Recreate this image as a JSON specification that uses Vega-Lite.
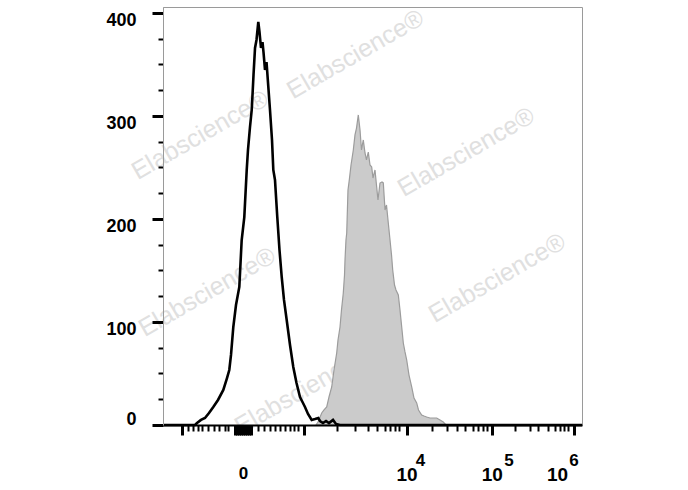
{
  "$schema": "https://vega.github.io/schema/vega-lite/v6.json",
  "width": 419,
  "height": 418,
  "autosize": {"type": "none"},
  "padding": {"left": 163, "top": 7, "right": 106, "bottom": 65},
  "background": "white",
  "config": {"view": {"stroke": "#9a9a9a", "strokeWidth": 1}, "font": "Liberation Sans"},
  "datasets": {
    "control": [
      {"ch":0,"v":0},{"ch":78.2,"v":0},{"ch":83.1,"v":1.9},{"ch":92.9,"v":4.9},{"ch":102.6,"v":6.8},{"ch":112.4,"v":11.7},{"ch":122.9,"v":17.5},{"ch":134.4,"v":24.3},{"ch":147.4,"v":34},{"ch":156.4,"v":45.6},{"ch":162,"v":53.4},{"ch":166.2,"v":68},{"ch":171.8,"v":95.1},{"ch":178.4,"v":116.5},{"ch":186.5,"v":134},{"ch":192.3,"v":179.6},{"ch":198.7,"v":201.9},{"ch":204.6,"v":247.6},{"ch":207.7,"v":267},{"ch":212.6,"v":289.3},{"ch":216.8,"v":305.8},{"ch":217.5,"v":310.7},{"ch":221.2,"v":339.8},{"ch":224.9,"v":366},{"ch":228.5,"v":373.8},{"ch":232.9,"v":391.3},{"ch":235.8,"v":381.6},{"ch":239.5,"v":366},{"ch":243.2,"v":371.8},{"ch":245.6,"v":362.1},{"ch":249.3,"v":344.7},{"ch":253,"v":352.4},{"ch":257.4,"v":328.2},{"ch":261.5,"v":305.8},{"ch":266.4,"v":276.7},{"ch":269.6,"v":247.6},{"ch":273.7,"v":237.9},{"ch":279.3,"v":201.9},{"ch":284.7,"v":169.9},{"ch":290.1,"v":143.7},{"ch":295.7,"v":121.4},{"ch":302.3,"v":101.9},{"ch":310.4,"v":77.7},{"ch":318.4,"v":56.3},{"ch":326.3,"v":40.8},{"ch":334.8,"v":27.2},{"ch":340.9,"v":22.3},{"ch":347,"v":17.5},{"ch":354.4,"v":10.7},{"ch":363.4,"v":4.9},{"ch":371.5,"v":5.8},{"ch":379.5,"v":6.8},{"ch":383.7,"v":3.9},{"ch":391,"v":1.9},{"ch":398.4,"v":3.9},{"ch":405.7,"v":1.9},{"ch":415.5,"v":4.9},{"ch":422.8,"v":1},{"ch":432.6,"v":0},{"ch":1024,"v":0}
    ],
    "stained": [
      {"ch":373.9,"v":0},{"ch":378.8,"v":2.9},{"ch":387.9,"v":11.7},{"ch":393.5,"v":14.6},{"ch":400.1,"v":17.5},{"ch":405.7,"v":27.2},{"ch":412.3,"v":36.9},{"ch":417.9,"v":53.4},{"ch":424.5,"v":69.9},{"ch":427.7,"v":82.5},{"ch":432.6,"v":95.1},{"ch":436.2,"v":111.7},{"ch":440.6,"v":128.2},{"ch":443.6,"v":145.6},{"ch":444.8,"v":160.2},{"ch":447.2,"v":179.6},{"ch":449,"v":186.4},{"ch":452.1,"v":228.2},{"ch":455.3,"v":237.9},{"ch":459.5,"v":252.4},{"ch":465.1,"v":267},{"ch":469.2,"v":281.6},{"ch":472.9,"v":288.3},{"ch":477.3,"v":301},{"ch":481.5,"v":286.4},{"ch":485.1,"v":267},{"ch":489.5,"v":276.7},{"ch":493.7,"v":264.1},{"ch":497.3,"v":257.3},{"ch":501.7,"v":265},{"ch":505.9,"v":252.4},{"ch":510,"v":250.5},{"ch":513.2,"v":239.8},{"ch":518.1,"v":247.6},{"ch":522.2,"v":231.1},{"ch":525.4,"v":218.4},{"ch":530.3,"v":234.9},{"ch":535.2,"v":235.9},{"ch":538.4,"v":235},{"ch":542.6,"v":208.7},{"ch":546.2,"v":213.6},{"ch":550.6,"v":196.1},{"ch":554.8,"v":179.6},{"ch":558.5,"v":165},{"ch":561.4,"v":150.5},{"ch":565.8,"v":135.9},{"ch":569.4,"v":131.1},{"ch":575.1,"v":126.2},{"ch":579.2,"v":111.7},{"ch":582.9,"v":97.1},{"ch":587.3,"v":79.6},{"ch":591.4,"v":70.9},{"ch":595.6,"v":63.1},{"ch":601.2,"v":48.5},{"ch":607.8,"v":36.9},{"ch":613.4,"v":26.2},{"ch":620,"v":21.4},{"ch":624.4,"v":14.6},{"ch":632.2,"v":9.7},{"ch":637.9,"v":8.7},{"ch":644.4,"v":7.8},{"ch":652.5,"v":6.8},{"ch":662.3,"v":6.8},{"ch":668.9,"v":6.8},{"ch":677,"v":4.9},{"ch":685,"v":2.9},{"ch":691.6,"v":0}
    ],
    "marks": [
      {"ch":470,"v":360,"t":"Elabscience®"},
      {"ch":90.4,"v":281.6,"t":"Elabscience®"},
      {"ch":740.5,"v":265,"t":"Elabscience®"},
      {"ch":107.5,"v":129.1,"t":"Elabscience®"},
      {"ch":816.3,"v":142.7,"t":"Elabscience®"},
      {"ch":342.2,"v":34,"t":"Elabscience®"}
    ],
    "sups": [
      {"ch":629.3,"v":-35,"t":"4"},
      {"ch":845.6,"v":-35,"t":"5"},
      {"ch":1004.4,"v":-35,"t":"6"}
    ]
  },
  "encoding": {
    "x": {
      "field": "ch", "type": "quantitative",
      "scale": {"domain": [0, 1024], "nice": false, "zero": false},
      "axis": {
        "title": null, "grid": false, "zindex": 1,
        "values": [47.2,61.8,74.1,84.8,94.6,110.7,125.4,137.6,151.5,159.6,176,180.9,185.7,190.6,195.5,200.4,205.3,210.2,215.1,232.9,247.6,261.5,273.7,285.9,298.2,310.4,320.9,330.7,343.4,426,469.2,501.7,523.7,542.6,554.8,567,576.8,595.1,656.7,693.3,717.8,738.1,758.3,770.6,781.3,791.1,803.3,860.3,896.9,917.2,941.6,958,970.2,980.8,990.5,1004.4],
        "domainColor": "black", "domainWidth": 2,
        "tickColor": "black",
        "tickSize": {"condition": {"test": "indexof([47.2,343.4,595.1,803.3,1004.4], datum.value) >= 0 || (datum.value > 175 && datum.value < 216)", "value": 10}, "value": 6},
        "tickWidth": {"condition": {"test": "indexof([47.2,343.4,595.1,803.3,1004.4], datum.value) >= 0 || (datum.value > 175 && datum.value < 216)", "value": 3}, "value": 2},
        "labelExpr": "datum.value === 195.5 ? '0' : ((datum.value === 595.1 || datum.value === 803.3 || datum.value === 1004.4) ? '10' : '')",
        "labelFontSize": {"condition": {"test": "datum.value === 195.5", "value": 17}, "value": 19},
        "labelOffset": {"condition": {"test": "datum.value === 1004.4", "value": -17}, "value": 0},
        "labelFontWeight": "bold",
        "labelColor": "black", "labelFont": "Liberation Sans",
        "labelPadding": 30, "labelOverlap": false, "labelBound": false, "labelFlush": false
      }
    },
    "y": {
      "field": "v", "type": "quantitative",
      "scale": {"domain": [0, 405.8], "nice": false, "zero": false},
      "axis": {
        "title": null, "grid": false, "zindex": 1,
        "values": [0,25,50,75,100,125,150,175,200,225,250,275,300,325,350,375,400],
        "domainColor": "#9a9a9a", "domainWidth": 1,
        "tickColor": "black",
        "tickSize": {"condition": {"test": "datum.value % 100 === 0", "value": 11}, "value": 5},
        "tickWidth": {"condition": {"test": "datum.value % 100 === 0", "value": 3}, "value": 2},
        "labelExpr": "datum.value % 100 === 0 ? datum.label : ''",
        "labelOffset": {"condition": {"test": "datum.value === 0", "value": -6}, "value": 8},
        "labelFontSize": 18, "labelFontWeight": "bold", "labelColor": "black", "labelFont": "Liberation Sans",
        "labelPadding": 16, "labelOverlap": false, "labelBound": false, "labelFlush": false
      }
    }
  },
  "layer": [
    {
      "data": {"name": "marks"},
      "mark": {"type": "text", "angle": -30, "fontSize": 25, "color": "#e0e0e0", "font": "Liberation Sans", "align": "center", "baseline": "middle"},
      "encoding": {"text": {"field": "t"}}
    },
    {
      "data": {"name": "stained"},
      "mark": {"type": "area", "color": "#cbcbcb", "stroke": "#9c9c9c", "strokeWidth": 1.2, "interpolate": "linear"}
    },
    {
      "data": {"name": "control"},
      "mark": {"type": "line", "color": "black", "strokeWidth": 2.6, "interpolate": "linear"}
    },
    {
      "data": {"name": "sups"},
      "mark": {"type": "text", "fontSize": 17, "fontWeight": "bold", "color": "black", "font": "Liberation Sans", "align": "center", "baseline": "middle"},
      "encoding": {"text": {"field": "t"}}
    }
  ]
}
